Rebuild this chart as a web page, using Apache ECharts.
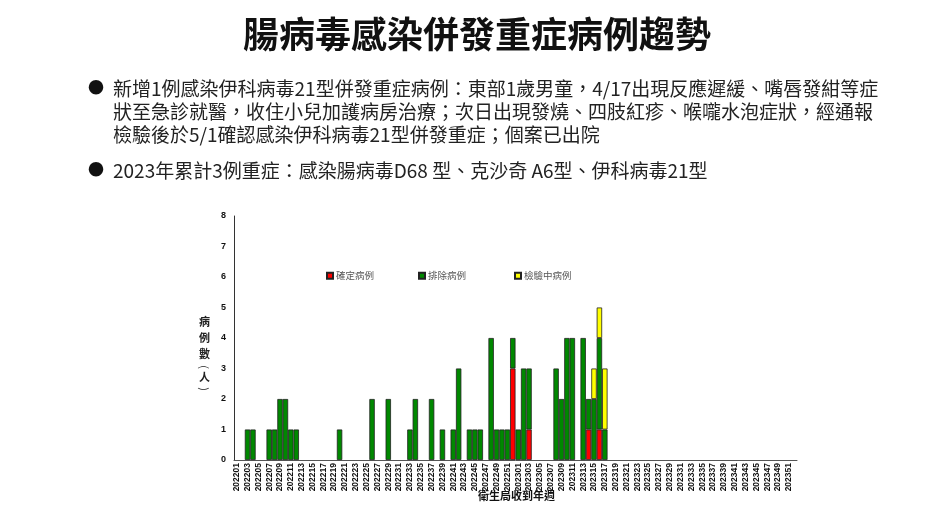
<!DOCTYPE html>
<html>
<head>
<meta charset="utf-8">
<script src="https://cdn.jsdelivr.net/npm/echarts@6/dist/echarts.min.js"></script>
<style>
html,body{margin:0;padding:0;background:#fff;}
#chart{width:941px;height:506px;}
</style>
</head>
<body>
<div id="chart"></div>
<script>
// ---- data ----
const weeks = [
 '202201','202202','202203','202204','202205','202206','202207','202208','202209','202210',
 '202211','202212','202213','202214','202215','202216','202217','202218','202219','202220',
 '202221','202222','202223','202224','202225','202226','202227','202228','202229','202230',
 '202231','202232','202233','202234','202235','202236','202237','202238','202239','202240',
 '202241','202242','202243','202244','202245','202246','202247','202248','202249','202250',
 '202251','202252',
 '202301','202302','202303','202304','202305','202306','202307','202308','202309','202310',
 '202311','202312','202313','202314','202315','202316','202317','202318','202319','202320',
 '202321','202322','202323','202324','202325','202326','202327','202328','202329','202330',
 '202331','202332','202333','202334','202335','202336','202337','202338','202339','202340',
 '202341','202342','202343','202344','202345','202346','202347','202348','202349','202350',
 '202351','202352'
];
// [week, cases]
const confirmed = [['202252',3],['202303',1],['202314',1],['202316',1]];
const excluded = [
 ['202203',1],['202204',1],['202207',1],['202208',1],['202209',2],['202210',2],['202211',1],['202212',1],
 ['202220',1],['202226',2],['202229',2],['202233',1],['202234',2],['202237',2],['202239',1],['202241',1],
 ['202242',3],['202244',1],['202245',1],['202246',1],['202248',4],['202249',1],['202250',1],['202251',1],
 ['202252',1],['202301',1],['202302',3],['202303',2],['202308',3],['202309',2],['202310',4],['202311',4],
 ['202313',4],['202314',1],['202315',2],['202316',3],['202317',1]
];
const pending = [['202315',1],['202316',1],['202317',2]];
const yTicks = [0,1,2,3,4,5,6,7,8];
const seriesNames = ['確定病例','排除病例','檢驗中病例'];
const titleText = '腸病毒感染併發重症病例趨勢';
const bulletLines = [
 '新增1例感染伊科病毒21型併發重症病例：東部1歲男童，4/17出現反應遲緩、嘴唇發紺等症',
 '狀至急診就醫，收住小兒加護病房治療；次日出現發燒、四肢紅疹、喉嚨水泡症狀，經通報',
 '檢驗後於5/1確認感染伊科病毒21型併發重症；個案已出院'
];
const bullet2 = '2023年累計3例重症：感染腸病毒D68 型、克沙奇 A6型、伊科病毒21型';
const yNameChars = ['病','例','數','(','人',')'];
const xName = '衛生局收到年週';

function toSeries(pairs){
  const m = {};
  pairs.forEach(p => { m[p[0]] = p[1]; });
  return weeks.map(w => (w in m) ? m[w] : null);
}

const chart = echarts.init(document.getElementById('chart'));
const cjk = '"Noto Sans CJK TC","Noto Sans CJK SC",sans-serif';
const colors = ['#ff0000','#008800','#ffff00'];

const graphics = [
  {type:'text', left:243, top:16, style:{text:titleText, font:'bold 36px '+cjk, fill:'#111'}},
  {type:'text', left:88, top:79, style:{text:'●', font:'16px '+cjk, fill:'#111'}},
  {type:'text', left:88, top:161, style:{text:'●', font:'16px '+cjk, fill:'#111'}},
  {type:'text', left:113, top:161, style:{text:bullet2, font:'19px '+cjk, fill:'#222'}}
];
bulletLines.forEach((t,i)=>{
  graphics.push({type:'text', left:113, top:79+i*23, style:{text:t, font:'19px '+cjk, fill:'#222'}});
});
const yNameY = [322,338,354,367,377,389];
yNameChars.forEach((c,i)=>{
  const paren = (c === '(' || c === ')');
  graphics.push({type:'text', x:204.5, y:yNameY[i], rotation: paren ? -Math.PI/2 : 0,
    style:{text:c, font:(paren ? '11px ' : 'bold 11px ')+cjk, fill:'#222', align:'center', verticalAlign:'middle'}});
});
graphics.push({type:'text', left:478, top:490, style:{text:xName, font:'bold 11px '+cjk, fill:'#111'}});

const legendPos = [326, 418, 514];

chart.setOption({
  animation:false,
  backgroundColor:'#fff',
  graphic: graphics,
  legend: seriesNames.map((n,i)=>({
    data:[n], left:legendPos[i], top:271, padding:0, itemWidth:6, itemHeight:6, itemGap:0,
    icon:'rect', textStyle:{fontSize:9.5, color:'#555', fontFamily:cjk, padding:[0,0,0,-2]},
    selectedMode:false
  })),
  grid:{left:234, right:144, top:216, bottom:46},
  xAxis:{
    type:'category', data:weeks, boundaryGap:true,
    axisLine:{lineStyle:{color:'#555', width:1}},
    axisTick:{show:false},
    axisLabel:{interval:1, rotate:90, fontSize:8.5, fontWeight:'bold', color:'#111', fontFamily:'Liberation Sans, Arial', margin:3}
  },
  yAxis:{
    type:'value', min:yTicks[0], max:yTicks[yTicks.length-1], interval:1,
    axisLine:{show:true, lineStyle:{color:'#333', width:1}},
    axisTick:{show:false},
    splitLine:{show:false},
    axisLabel:{fontSize:9, fontWeight:'bold', color:'#111', fontFamily:'Liberation Sans, Arial', margin:8}
  },
  series:[
    {name:seriesNames[0], type:'bar', stack:'s', data:toSeries(confirmed), barCategoryGap:'0%',
     itemStyle:{color:colors[0], borderColor:'#222', borderWidth:0.8}},
    {name:seriesNames[1], type:'bar', stack:'s', data:toSeries(excluded), barCategoryGap:'0%',
     itemStyle:{color:colors[1], borderColor:'#222', borderWidth:0.8}},
    {name:seriesNames[2], type:'bar', stack:'s', data:toSeries(pending), barCategoryGap:'0%',
     itemStyle:{color:colors[2], borderColor:'#222', borderWidth:0.8}}
  ]
});
</script>
</body>
</html>
